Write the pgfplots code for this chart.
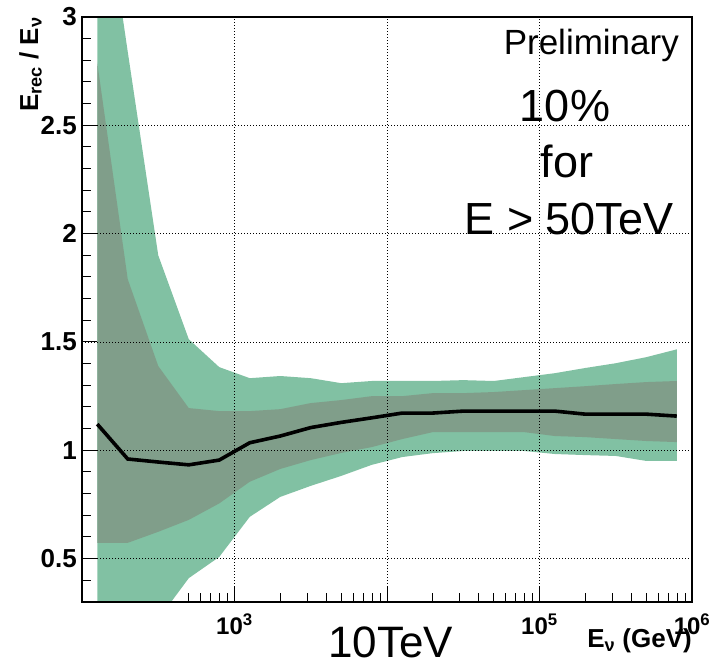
\documentclass[border=0pt]{standalone}
\usepackage{fontspec}
\setmainfont{Liberation Sans}
\usepackage{pgfplots}
\pgfplotsset{compat=1.18}
\definecolor{outerg}{RGB}{129,193,163}
\definecolor{innerg}{RGB}{128,158,138}
\begin{document}
\begin{tikzpicture}[x=1pt,y=1pt]
\useasboundingbox (0,0) rectangle (712,666);
\begin{axis}[
  at={(82pt,64pt)}, anchor=south west,
  scale only axis, width=610pt, height=585pt,
  xmode=log, xmin=100, xmax=1000000, ymin=0.3, ymax=3,
  axis on top,
  xtick={1000,10000,100000,1000000},
  xticklabels={10\textsuperscript{3},{},10\textsuperscript{5},10\textsuperscript{6}},
  minor xtick={500,600,700,800,900,2000,3000,4000,5000,6000,7000,8000,9000,20000,30000,40000,50000,60000,70000,80000,90000,200000,300000,400000,500000,600000,700000,800000,900000},
  ytick={0.5,1,1.5,2,2.5,3},
  yticklabels={0.5,1,1.5,2,2.5,3},
  minor ytick={0.4,0.6,0.7,0.8,0.9,1.1,1.2,1.3,1.4,1.6,1.7,1.8,1.9,2.1,2.2,2.3,2.4,2.6,2.7,2.8,2.9},
  xtick pos=bottom, ytick pos=left,
  tick align=inside,
  major tick length=15pt, minor tick length=9pt,
  tick style={black, line width=1pt},
  grid=major,
  major grid style={black, line width=0.8pt, dash pattern=on 1pt off 2pt},
  axis line style={black, line width=1.2pt},
  xticklabel style={font=\bfseries\fontsize{24}{24}\selectfont, inner sep=0pt, anchor=north, yshift=-12pt},
  yticklabel style={font=\bfseries\fontsize{26}{26}\selectfont, inner sep=0pt, anchor=east, xshift=-5pt},
]
% outer band (upper edge forward, lower edge backward)
\addplot[fill=outerg, draw=none] coordinates {
(125.9,3.80) (199.5,2.84) (316.2,1.90) (501.2,1.513) (794.3,1.384)
(1258.9,1.333) (1995.3,1.343) (3162.3,1.333) (5011.9,1.31) (7943.3,1.32)
(12589,1.32) (19953,1.32) (31623,1.324) (50119,1.32) (79433,1.338)
(125893,1.356) (199526,1.38) (316228,1.402) (501187,1.43) (794328,1.466)
(794328,0.951) (501187,0.951) (316228,0.974) (199526,0.978) (125893,0.983)
(79433,0.997) (50119,0.997) (31623,0.997) (19953,0.987) (12589,0.969)
(7943.3,0.933) (5011.9,0.882) (3162.3,0.836) (1995.3,0.785) (1258.9,0.693)
(794.3,0.508) (501.2,0.41) (316.2,0.22) (199.5,0.15) (125.9,0.10)
} -- cycle;
% inner band
\addplot[fill=innerg, draw=none] coordinates {
(125.9,2.789) (199.5,1.790) (316.2,1.389) (501.2,1.195) (794.3,1.181)
(1258.9,1.181) (1995.3,1.19) (3162.3,1.218) (5011.9,1.232) (7943.3,1.25)
(12589,1.25) (19953,1.264) (31623,1.264) (50119,1.269) (79433,1.278)
(125893,1.287) (199526,1.296) (316228,1.306) (501187,1.315) (794328,1.32)
(794328,1.038) (501187,1.043) (316228,1.052) (199526,1.061) (125893,1.066)
(79433,1.084) (50119,1.084) (31623,1.084) (19953,1.084) (12589,1.052)
(7943.3,1.015) (5011.9,0.988) (3162.3,0.955) (1995.3,0.914) (1258.9,0.855)
(794.3,0.755) (501.2,0.679) (316.2,0.624) (199.5,0.573) (125.9,0.573)
} -- cycle;
% mean line
\addplot[black, line width=3.6pt] coordinates {
(125.9,1.121) (199.5,0.960) (316.2,0.946) (501.2,0.933) (794.3,0.955)
(1258.9,1.035) (1995.3,1.066) (3162.3,1.105) (5011.9,1.129) (7943.3,1.150)
(12589,1.172) (19953,1.172) (31623,1.181) (50119,1.181) (79433,1.181)
(125893,1.181) (199526,1.167) (316228,1.167) (501187,1.167) (794328,1.158)
};
\end{axis}
\node[rotate=90, anchor=base east, inner sep=0pt, font=\bfseries\fontsize{26}{26}\selectfont] at (38,649) {E\textsubscript{rec} / E\textsubscript{ν}};
\node[anchor=base east, inner sep=0pt, font=\bfseries\fontsize{26}{26}\selectfont] at (692,18) {E\textsubscript{ν} (GeV)};
\node[anchor=base east, inner sep=0pt, font=\fontsize{35}{35}\selectfont] at (679,611) {Preliminary};
\node[anchor=base, inner sep=0pt, font=\fontsize{45}{45}\selectfont] at (565,544) {10\%};
\node[anchor=base, inner sep=0pt, font=\fontsize{45}{45}\selectfont] at (567,488) {for};
\node[anchor=base, inner sep=0pt, font=\fontsize{45}{45}\selectfont] at (569,431) {E > 50TeV};
\node[anchor=base west, inner sep=0pt, font=\fontsize{44}{44}\selectfont] at (328,8) {10TeV};
\end{tikzpicture}
\end{document}
